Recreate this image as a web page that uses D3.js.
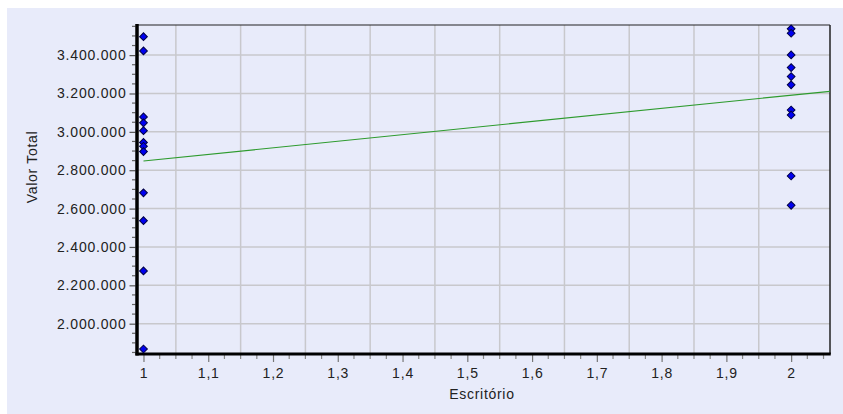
<!DOCTYPE html>
<html>
<head>
<meta charset="utf-8">
<script src="https://cdn.jsdelivr.net/npm/d3@7"></script>
<style>
  html, body { margin: 0; padding: 0; background: #ffffff; }
  svg { display: block; }
</style>
</head>
<body>
<svg id="chart" width="843" height="414"></svg>
<script>
// ---- data ----
const categories = [1, 2];                       // Escritório
const valoresEscritorio1 = [3496000, 3422000, 3078000, 3047000, 3006000, 2945000, 2925000, 2897000, 2682000, 2537000, 2275000, 1868000];
const valoresEscritorio2 = [3537000, 3514000, 3401000, 3335000, 3288000, 3245000, 3114000, 3088000, 2770000, 2617000];
const yTickValues = [2000000, 2200000, 2400000, 2600000, 2800000, 3000000, 3200000, 3400000];
const xTickValues = [1, 1.1, 1.2, 1.3, 1.4, 1.5, 1.6, 1.7, 1.8, 1.9, 2];
const xDomain = [0.99, 2.06];
const yDomain = [1842000, 3557000];
const xLabel = "Escritório";
const yLabel = "Valor Total";

// ---- setup ----
const W = 843, H = 414;
const M = { left: 137, right: 830, top: 25, bottom: 354 };
const bg = "#E8EBFA";
const svg = d3.select("#chart");
const loc = d3.formatLocale({ decimal: ",", thousands: ".", grouping: [3], currency: ["R$", ""] });
const fy = loc.format(",d");
const fx = v => loc.format(",")(+v.toFixed(1));

svg.append("rect").attr("x", 7).attr("y", 8).attr("width", W - 7).attr("height", H - 8).attr("fill", bg);

const x = d3.scaleLinear().domain(xDomain).range([M.left, M.right]);
const y = d3.scaleLinear().domain(yDomain).range([M.bottom, M.top]);

const points = [];
valoresEscritorio1.forEach(v => points.push({ x: categories[0], y: v }));
valoresEscritorio2.forEach(v => points.push({ x: categories[1], y: v }));

// grid
const gridX = d3.range(1.05, 2.0, 0.1);
svg.append("g").selectAll("line").data(gridX).join("line")
  .attr("x1", d => x(d)).attr("x2", d => x(d))
  .attr("y1", M.top).attr("y2", M.bottom)
  .attr("stroke", "#C8C8CC").attr("stroke-width", 1.5);
svg.append("g").selectAll("line").data(yTickValues).join("line")
  .attr("x1", M.left).attr("x2", M.right)
  .attr("y1", d => y(d)).attr("y2", d => y(d))
  .attr("stroke", "#C8C8CC").attr("stroke-width", 1.5);

// frame top/right
svg.append("line").attr("x1", M.left).attr("x2", M.right).attr("y1", M.top).attr("y2", M.top)
  .attr("stroke", "#222").attr("stroke-width", 1.2);
svg.append("line").attr("x1", M.right).attr("x2", M.right).attr("y1", M.top).attr("y2", M.bottom)
  .attr("stroke", "#222").attr("stroke-width", 1.5);

// minor ticks
const yMinor = d3.range(1850000, 3557000, 50000).filter(v => !yTickValues.includes(v));
const xMinor = d3.range(0, 43).map(i => 1 + i * 0.025).filter(v => v <= xDomain[1] && !xTickValues.some(t => Math.abs(t - v) < 1e-9));

const tickFont = "Liberation Sans, Arial, sans-serif";
const ls = "0.8px";

const yAxis = d3.axisLeft(y).tickValues(yTickValues).tickFormat(fy).tickSize(6).tickPadding(3);
const gy = svg.append("g").attr("transform", `translate(${M.left - 1.5},0)`).call(yAxis);
gy.select(".domain").remove();
gy.selectAll(".tick line").attr("stroke", "#555").attr("stroke-width", 1.2);
gy.selectAll(".tick text").attr("font-family", tickFont).attr("font-size", 14).attr("letter-spacing", ls).attr("fill", "#222");
svg.append("g").selectAll("line").data(yMinor).join("line")
  .attr("x1", M.left - 5).attr("x2", M.left - 1.5)
  .attr("y1", d => y(d)).attr("y2", d => y(d))
  .attr("stroke", "#666").attr("stroke-width", 1.2);

const xAxis = d3.axisBottom(x).tickValues(xTickValues).tickFormat(fx).tickSize(7).tickPadding(6);
const gx = svg.append("g").attr("transform", `translate(0,${M.bottom + 1})`).call(xAxis);
gx.select(".domain").remove();
gx.selectAll(".tick line").attr("stroke", "#777").attr("stroke-width", 1.2);
gx.selectAll(".tick text").attr("font-family", tickFont).attr("font-size", 14).attr("letter-spacing", ls).attr("fill", "#222");
svg.append("g").selectAll("line").data(xMinor).join("line")
  .attr("x1", d => x(d)).attr("x2", d => x(d))
  .attr("y1", M.bottom + 1).attr("y2", M.bottom + 5)
  .attr("stroke", "#888").attr("stroke-width", 1.2);

// thick axes
svg.append("line").attr("x1", M.left).attr("x2", M.left).attr("y1", M.top - 1).attr("y2", M.bottom + 1.5)
  .attr("stroke", "#000").attr("stroke-width", 3.5);
svg.append("line").attr("x1", M.left - 1.5).attr("x2", M.right + 0.75).attr("y1", M.bottom).attr("y2", M.bottom)
  .attr("stroke", "#000").attr("stroke-width", 3);

// regression line (least squares)
const mx = d3.mean(points, d => d.x), my = d3.mean(points, d => d.y);
const sxy = d3.sum(points, d => (d.x - mx) * (d.y - my));
const sxx = d3.sum(points, d => (d.x - mx) * (d.x - mx));
const slope = sxy / sxx, intercept = my - slope * mx;
const lineX = [categories[0], xDomain[1]];
svg.append("path")
  .datum(lineX.map(v => [v, intercept + slope * v]))
  .attr("d", d3.line().x(d => x(d[0])).y(d => y(d[1])))
  .attr("fill", "none").attr("stroke", "#2E9B2E").attr("stroke-width", 1.2);

// points
const sym = d3.symbol().type(d3.symbolSquare).size(30);
svg.append("g").selectAll("path").data(points).join("path")
  .attr("d", sym)
  .attr("transform", d => `translate(${x(d.x)},${y(d.y)}) rotate(45)`)
  .attr("fill", "#0000F0").attr("stroke", "#000044").attr("stroke-width", 1);

// axis labels
svg.append("text").attr("x", 482).attr("y", 399).attr("text-anchor", "middle")
  .attr("font-family", tickFont).attr("font-size", 14).attr("letter-spacing", "0.7px").attr("fill", "#222").text(xLabel);
svg.append("text").attr("transform", "translate(37,167) rotate(-90)").attr("text-anchor", "middle")
  .attr("font-family", tickFont).attr("font-size", 14).attr("letter-spacing", "0.7px").attr("fill", "#222").text(yLabel);
</script>
</body>
</html>
